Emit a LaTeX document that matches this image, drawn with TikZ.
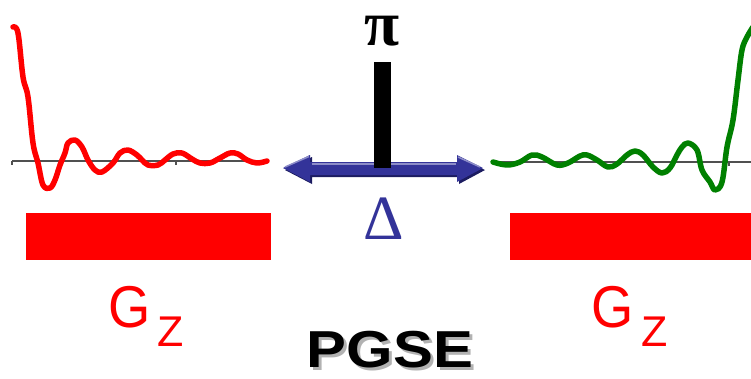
\documentclass[tikz,border=0pt]{standalone}
\usepackage{fontspec}
\setmainfont{Liberation Sans}
\newfontfamily\serifgreek{Liberation Serif}
\definecolor{navy}{RGB}{51,51,153}
\definecolor{navydark}{RGB}{28,28,96}
\definecolor{navylight}{RGB}{140,140,200}
\definecolor{curvegreen}{RGB}{0,128,0}
\definecolor{axisgray}{RGB}{80,80,80}
\begin{document}
\begin{tikzpicture}[x=1pt,y=-1pt,
  signal/.style={line width=5.5pt,line join=round,line cap=round},
  axisline/.style={draw=axisgray,line width=1.2pt},
  gradbar/.style={fill=red,draw=none},
  gzlabel/.style={text=red,inner sep=0pt,anchor=base west},
  greek/.style={inner sep=0pt,anchor=base}]
\useasboundingbox (0,0) rectangle (751,378);
% axes
\draw[axisline] (12,161) -- (268,161);
\draw[axisline] (12,161) -- (12,165);
\draw[axisline] (176,161) -- (176,165);
\draw[axisline] (493,162) -- (751,162);
\draw[axisline] (729,162) -- (729,166);
% left (red) echo signal
\draw[signal,red] plot[smooth,tension=0.6] coordinates {
 (13,27) (18,33) (23,77) (28,97) (33,143) (38,163) (43,185) (50,188) (55,180)
 (60,165) (65,153) (68,143) (75,140) (82,147) (88,160) (95,170) (102,172)
 (113,163) (120,153) (128,150) (137,155) (142,160) (148,165) (158,165)
 (165,160) (173,154) (182,153) (192,159) (200,163) (210,163) (220,158)
 (230,153) (238,154) (247,160) (257,163) (267,161)};
% right (green) echo signal
\draw[signal,curvegreen] plot[smooth,tension=0.6] coordinates {
 (493,162) (507,165) (520,162) (532,155) (542,157) (557,165) (568,163)
 (580,156) (587,155) (597,160) (608,167) (617,164) (627,155) (635,151)
 (643,155) (653,167) (662,173) (670,168) (677,155) (682,147) (688,143)
 (697,150) (702,170) (710,182) (715,190) (722,182) (727,147) (733,120)
 (738,80) (742,50) (747,37) (753,27)};
% gradient pulses
\node[gradbar,minimum width=245pt,minimum height=47pt,inner sep=0pt,anchor=north west] (g1) at (26,213) {};
\node[gradbar,minimum width=241pt,minimum height=47pt,inner sep=0pt,anchor=north west] (g2) at (510,213) {};
% Delta double arrow with shading
\fill[navydark] (285,170) -- (312,157) -- (312,164) -- (459,164) -- (459,157) -- (485,170)
  -- (459,184) -- (459,177) -- (312,177) -- (312,184) -- cycle;
\fill[navy] (283,168) -- (310,155) -- (310,162) -- (457,162) -- (457,155) -- (483,168)
  -- (457,182) -- (457,175) -- (310,175) -- (310,182) -- cycle;
\draw[navylight,line width=2pt] (312,163.5) -- (456,163.5);
\draw[navylight,line width=1.5pt] (285,167) -- (309,156.5);
\draw[navylight,line width=1.5pt] (458,157) -- (480,167);
% pi pulse
\node[fill=black,minimum width=17pt,minimum height=106pt,inner sep=0pt,anchor=north west] (pi) at (374,62) {};
\node[greek,font=\serifgreek\bfseries\fontsize{64}{64}\selectfont] (pilabel) at (382,45) {π};
\node[greek,text=navy,font=\serifgreek\fontsize{63}{63}\selectfont] (delta) at (384,239) {Δ};
% G_z labels
\node[gzlabel,font=\fontsize{59}{60}\selectfont] (G1) at (108,327) {\scalebox{0.92}[1]{G}};
\node[gzlabel,font=\fontsize{43}{44}\selectfont] (z1) at (157,346) {Z};
\node[gzlabel,font=\fontsize{59}{60}\selectfont] (G2) at (591,327) {\scalebox{0.92}[1]{G}};
\node[gzlabel,font=\fontsize{43}{44}\selectfont] (z2) at (641,346) {Z};
% title with shadow
\node[inner sep=0pt,anchor=base,text=black!30,font=\bfseries\fontsize{52}{52}\selectfont] (titleshadow) at (393,370) {\scalebox{1.15}[1]{PGSE}};
\node[inner sep=0pt,anchor=base,font=\bfseries\fontsize{52}{52}\selectfont] (title) at (390,367) {\scalebox{1.15}[1]{PGSE}};
\end{tikzpicture}
\end{document}
